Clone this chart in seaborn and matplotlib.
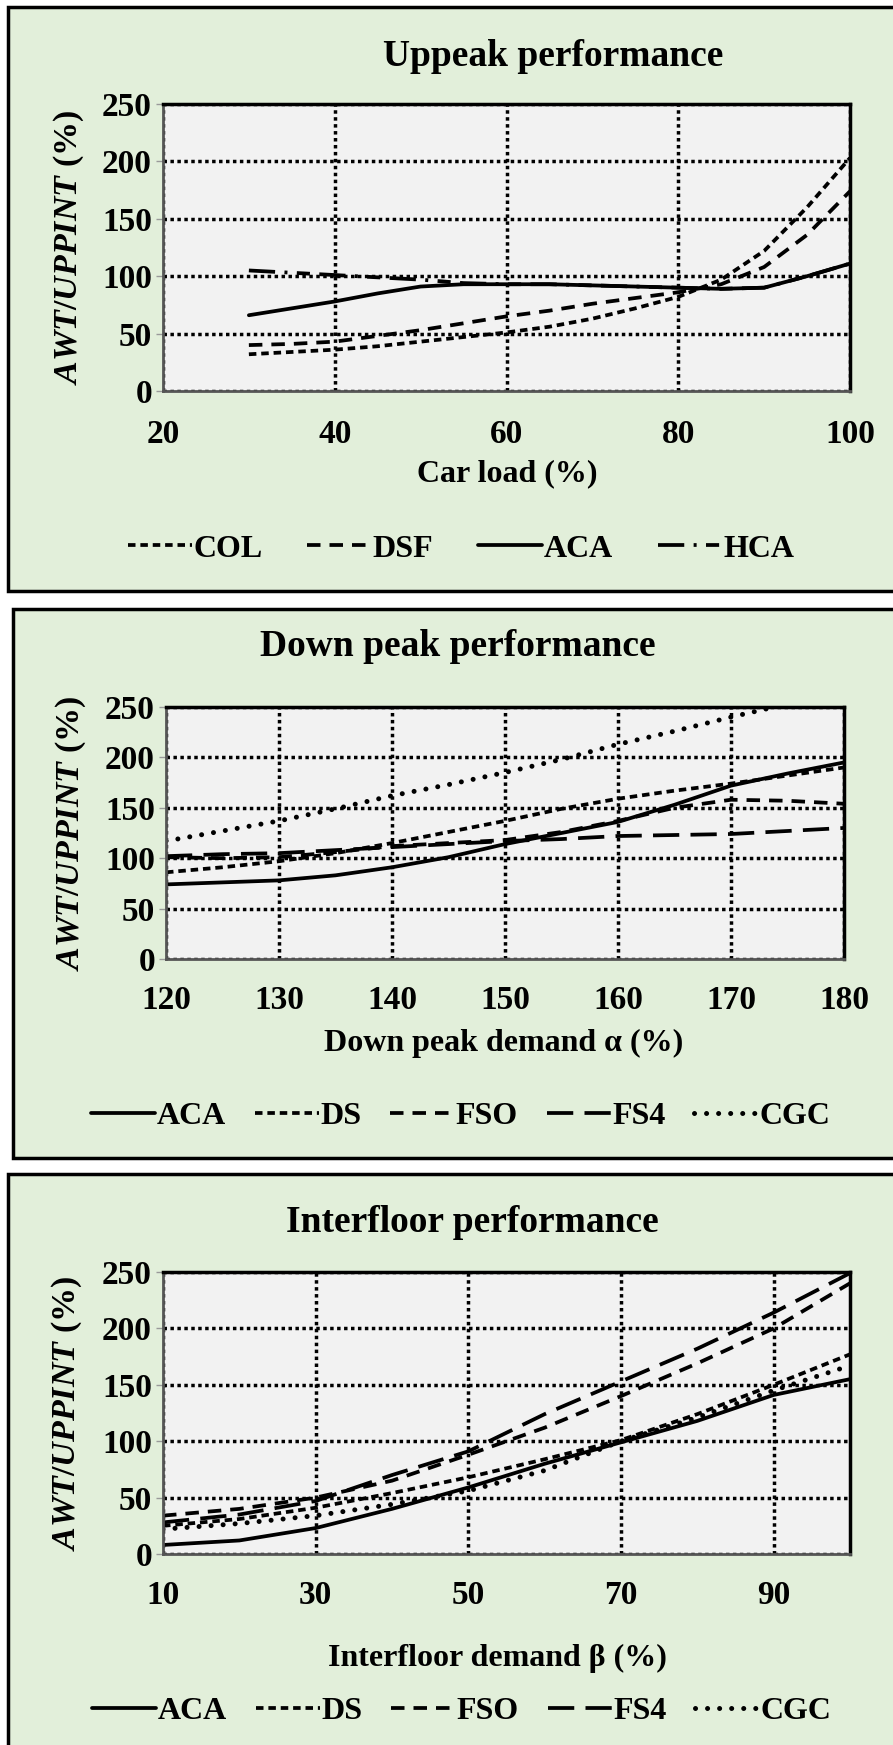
import matplotlib
matplotlib.use("Agg")
import matplotlib.pyplot as plt
import seaborn as sns
import pandas as pd
from matplotlib.patches import Rectangle

# ---- data ----
up_load = [30, 35, 40, 45, 50, 55, 60, 65, 70, 75, 80, 85, 90, 95, 100]
up_col = [32, 34, 36, 39, 43, 47, 51, 56, 63, 72, 82, 97, 122, 160, 203]
up_dsf = [40, 41, 43, 48, 53, 59, 65, 70, 76, 81, 86, 93, 108, 136, 174]
up_aca = [66, 72, 78, 85, 91, 93, 93, 93, 92, 91, 90, 89, 90, 100, 111]
up_hca = [105, 103, 101, 99, 97, 94, 93, 93, 92, 91, 90, 89, 90, 100, 111]

dp_demand = [120, 125, 130, 135, 140, 145, 150, 155, 160, 165, 170, 175, 180]
dp_aca = [74, 76, 78, 83, 91, 101, 114, 125, 136, 153, 172, 184, 195]
dp_ds = [86, 91, 97, 105, 115, 126, 137, 149, 159, 167, 174, 182, 190]
dp_fso = [101, 100, 101, 106, 112, 115, 118, 126, 137, 150, 158, 157, 154]
dp_fs4 = [102, 104, 105, 108, 111, 114, 117, 119, 122, 123, 124, 127, 130]
dp_cgc = [117, 127, 137, 149, 162, 173, 185, 198, 213, 226, 240, 253, 265]

if_demand = [10, 20, 30, 40, 50, 60, 70, 80, 90, 100]
if_aca = [8, 12, 23, 40, 59, 80, 99, 118, 141, 155]
if_ds = [25, 31, 41, 54, 68, 84, 101, 124, 150, 177]
if_fso = [34, 40, 50, 65, 88, 112, 140, 169, 200, 240]
if_fs4 = [28, 35, 47, 70, 91, 124, 153, 182, 214, 249]
if_cgc = [22, 27, 34, 44, 56, 74, 100, 121, 145, 167]

W, H = 893, 1745
BOX = "#E2EFDA"
FACE = "#F2F2F2"
FONT = "Liberation Serif"

sns.set_theme(style="white")
plt.rcParams["font.family"] = [FONT, "DejaVu Serif"]
plt.rcParams["font.weight"] = "bold"
plt.rcParams["text.color"] = "black"
plt.rcParams["xtick.color"] = "black"
plt.rcParams["ytick.color"] = "black"
plt.rcParams["mathtext.fontset"] = "custom"
plt.rcParams["mathtext.it"] = "Liberation Serif:italic:bold"
plt.rcParams["mathtext.rm"] = "Liberation Serif:bold"

STYLES = {
    "COL": (0, (2.0, 1.3)),
    "DS": (0, (2.0, 1.3)),
    "DSF": (0, (3.6, 2.4)),
    "FSO": (0, (3.6, 2.4)),
    "ACA": "-",
    "HCA": (0, (7, 2.5, 0.8, 2.5, 3.5, 2.5)),
    "FS4": (0, (7, 3)),
    "CGC": (0, (0.01, 2.4)),
}


def px(x, y):
    return x / W, 1 - y / H


fig = plt.figure(figsize=(W / 100, H / 100), dpi=100)
fig.patch.set_facecolor("white")

# panel background boxes (right side / bottom run off the page)
for (x0, y0, y1) in [(8, 7, 591), (13, 609, 1158), (8, 1174, 1760)]:
    fig.patches.append(Rectangle((x0 / W, 1 - y1 / H), (W + 20 - x0) / W, (y1 - y0) / H,
                                 transform=fig.transFigure, facecolor=BOX,
                                 edgecolor="black", linewidth=2.5, zorder=-10))


def panel(rect, x, series, xlim, xticks, title, title_xy, xlabel, xlabel_xy,
          ylabel_x, legend_xy, tickpad, colspace):
    ax = fig.add_axes(rect, zorder=2)
    ax.set_facecolor(FACE)
    df = pd.DataFrame({"x": x, **series})
    for name in series:
        lw = 3.6 if name == "CGC" else 2.7
        sns.lineplot(data=df, x="x", y=name, ax=ax, color="black",
                     linestyle=STYLES[name], linewidth=lw, label=name,
                     estimator=None, errorbar=None,
                     dash_capstyle="round" if name == "CGC" else "butt")
    ax.set_xlim(*xlim)
    ax.set_ylim(0, 250)
    ax.set_xticks(xticks)
    ax.set_yticks([0, 50, 100, 150, 200, 250])
    ax.grid(True, color="black", linestyle=(0, (1, 1)), linewidth=2.5)
    ax.set_axisbelow(True)
    ax.tick_params(axis="x", length=0, pad=tickpad, labelsize=24)
    ax.tick_params(axis="y", length=5, width=1, color="#999999", left=True,
                   pad=3, labelsize=24, labelcolor="black")
    for lab in ax.get_xticklabels() + ax.get_yticklabels():
        lab.set_fontweight("bold")
    for side in ["top", "right"]:
        ax.spines[side].set_color("black")
        ax.spines[side].set_linewidth(2.5)
    for side in ["left", "bottom"]:
        ax.spines[side].set_color("#555555")
        ax.spines[side].set_linewidth(2.0)
    ax.set_xlabel("")
    ax.set_ylabel("")
    handles, labels = ax.get_legend_handles_labels()
    ax.get_legend().remove()

    fig.text(*px(*title_xy), title, ha="center", va="center",
             fontsize=27, fontweight="bold")
    fig.text(*px(*xlabel_xy), xlabel, ha="center", va="center",
             fontsize=23, fontweight="bold")
    ymid = (1 - (rect[1] + rect[3] / 2)) * H
    fig.text(*px(ylabel_x, ymid), r"$\mathit{AWT/UPPINT}$ (%)", ha="center",
             va="center", rotation=90, fontsize=24.5, fontweight="bold")
    fig.legend(handles, labels, loc="center", bbox_to_anchor=px(*legend_xy),
               ncol=len(labels), frameon=False, handlelength=2.0,
               handletextpad=0.05, columnspacing=colspace,
               prop={"family": FONT, "weight": "bold", "size": 23})
    return ax


panel([163 / W, 1 - 391 / H, (850 - 163) / W, (391 - 104) / H],
      up_load, {"COL": up_col, "DSF": up_dsf, "ACA": up_aca, "HCA": up_hca},
      (20, 100), [20, 40, 60, 80, 100], "Uppeak performance", (553, 56),
      "Car load (%)", (507, 474), 69, (461, 549), 20, 1.4)

panel([166 / W, 1 - 959 / H, (844 - 166) / W, (959 - 707) / H],
      dp_demand, {"ACA": dp_aca, "DS": dp_ds, "FSO": dp_fso, "FS4": dp_fs4, "CGC": dp_cgc},
      (120, 180), [120, 130, 140, 150, 160, 170, 180], "Down peak performance", (458, 647),
      "Down peak demand α (%)", (504, 1043), 71, (461, 1116), 19, 0.9)

panel([163 / W, 1 - 1554 / H, (850 - 163) / W, (1554 - 1272) / H],
      if_demand, {"ACA": if_aca, "DS": if_ds, "FSO": if_fso, "FS4": if_fs4, "CGC": if_cgc},
      (10, 100), [10, 30, 50, 70, 90], "Interfloor performance", (472, 1223),
      "Interfloor demand β (%)", (497, 1658), 67, (462, 1711), 19, 0.9)

fig.savefig("out.png", dpi=100, facecolor="white")
